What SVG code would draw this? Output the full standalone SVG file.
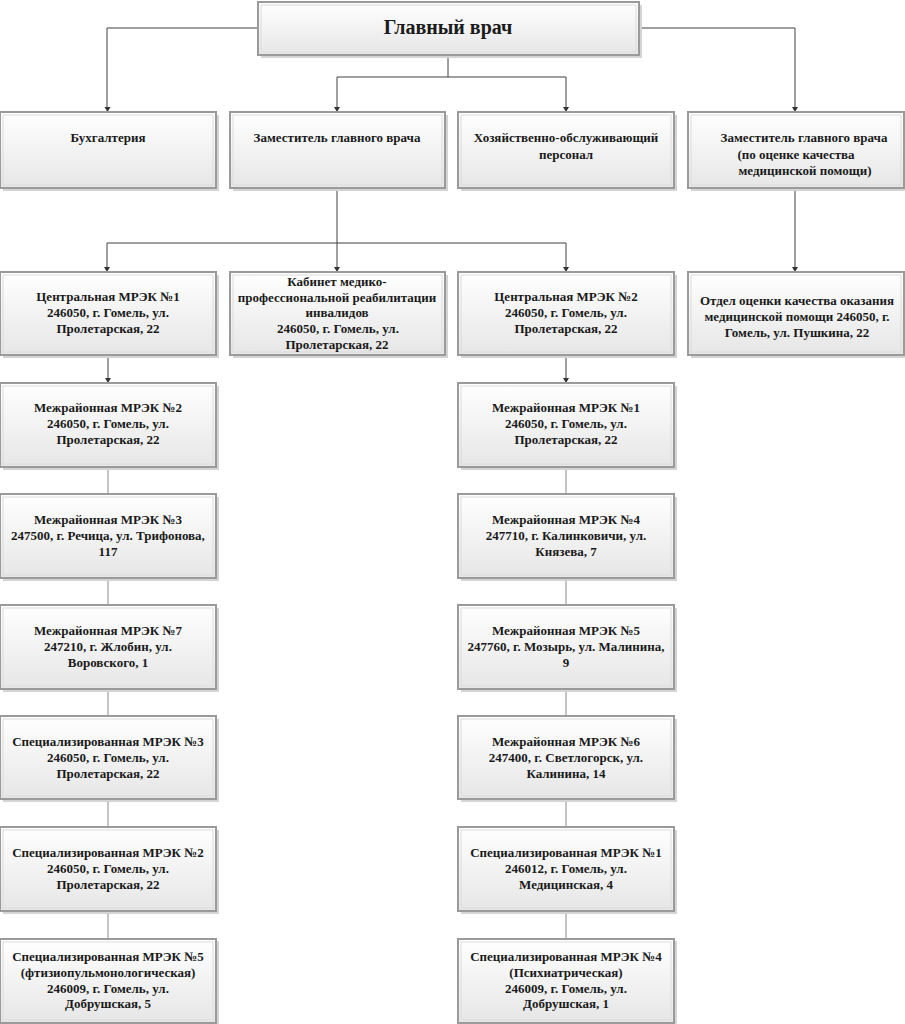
<svg xmlns="http://www.w3.org/2000/svg" width="905" height="1024" viewBox="0 0 905 1024">
<defs>
<linearGradient id="g" x1="0" y1="0" x2="0" y2="1">
<stop offset="0" stop-color="#ffffff"/>
<stop offset="1" stop-color="#e6e6e6"/>
</linearGradient>
</defs>
<style>
.b{fill:url(#g);stroke:#9a9a9a;stroke-width:2}
.s{fill:#d4d4d4}
.in{fill:none;stroke:#dcdcdc;stroke-width:1}
text{font-family:"Liberation Serif","Times New Roman",serif;font-weight:bold;font-size:13px;fill:#1a1a1a;text-anchor:middle}
.t{font-size:20px}
.c{fill:none;stroke:#404040;stroke-width:1}
.cl{fill:none;stroke:#8a8a8a;stroke-width:1}
.ah{fill:#333}
</style>
<rect width="905" height="1024" fill="#fff"/>
<g id="connectors">
<path class="c" d="M258,28 H107 V108"/>
<path class="c" d="M639,28 H795 V108"/>
<path class="c" d="M448,55 V77 M337,77 H566"/>
<path class="c" d="M337,77 V108"/>
<path class="c" d="M566,77 V108"/>
<path class="c" d="M337,188 V243 M107,243 H566"/>
<path class="c" d="M107,243 V268"/>
<path class="c" d="M337,243 V268"/>
<path class="c" d="M566,243 V268"/>
<path class="c" d="M795,188 V268"/>
<path class="c" d="M108,355 V379"/>
<path class="c" d="M566,355 V379"/>
<path class="cl" d="M108,467 V494 M108,578 V605 M108,689 V716 M108,800 V827 M108,911 V945"/>
<path class="cl" d="M566,467 V494 M566,578 V605 M566,689 V716 M566,800 V827 M566,911 V945"/>
<path class="ah" d="M104.5,107 L110.5,107 L107.5,112 z"/>
<path class="ah" d="M792,107 L798,107 L795,112 z"/>
<path class="ah" d="M334,107 L340,107 L337,112 z"/>
<path class="ah" d="M563,107 L569,107 L566,112 z"/>
<path class="ah" d="M104,267 L110,267 L107,272 z"/>
<path class="ah" d="M334,267 L340,267 L337,272 z"/>
<path class="ah" d="M563,267 L569,267 L566,272 z"/>
<path class="ah" d="M792,267 L798,267 L795,272 z"/>
<path class="ah" d="M105,378 L111,378 L108,383 z"/>
<path class="ah" d="M563,378 L569,378 L566,383 z"/>
</g>
<g id="n-main"><rect class="s" x="261" y="5" width="381" height="53"/><rect class="b" x="258" y="2" width="381" height="53"/><rect class="in" x="261" y="5" width="375" height="47"/><text class="t" x="448" y="34">Главный врач</text></g>
<g id="n-buh"><rect class="s" x="3" y="115" width="216" height="76"/><rect class="b" x="0" y="112" width="216" height="76"/><rect class="in" x="3" y="115" width="210" height="70"/><text x="108" y="142">Бухгалтерия</text></g>
<g id="n-zam"><rect class="s" x="233" y="115" width="215" height="76"/><rect class="b" x="230" y="112" width="215" height="76"/><rect class="in" x="233" y="115" width="209" height="70"/><text x="337" y="142">Заместитель главного врача</text></g>
<g id="n-hoz"><rect class="s" x="461" y="115" width="216" height="76"/><rect class="b" x="458" y="112" width="216" height="76"/><rect class="in" x="461" y="115" width="210" height="70"/><text x="566" y="142">Хозяйственно-обслуживающий</text><text x="566" y="159">персонал</text></g>
<g id="n-zam2"><rect class="s" x="691" y="115" width="216" height="76"/><rect class="b" x="688" y="112" width="216" height="76"/><rect class="in" x="691" y="115" width="210" height="70"/><text x="804" y="142">Заместитель главного врача</text><text x="796" y="159">(по оценке качества</text><text x="805" y="175">медицинской помощи)</text></g>

<g id="n-c1"><rect class="s" x="3" y="275" width="216" height="83"/><rect class="b" x="0" y="272" width="216" height="83"/><rect class="in" x="3" y="275" width="210" height="77"/><text x="108" y="301">Центральная МРЭК №1</text><text x="108" y="317">246050, г. Гомель, ул.</text><text x="108" y="333">Пролетарская, 22</text></g>
<g id="n-kab"><rect class="s" x="233" y="275" width="215" height="83"/><rect class="b" x="230" y="272" width="215" height="83"/><rect class="in" x="233" y="275" width="209" height="77"/><text x="337" y="286">Кабинет медико-</text><text x="337" y="302">профессиональной реабилитации</text><text x="337" y="317">инвалидов</text><text x="338" y="333">246050, г. Гомель, ул.</text><text x="337" y="349">Пролетарская, 22</text></g>
<g id="n-c2"><rect class="s" x="461" y="275" width="216" height="83"/><rect class="b" x="458" y="272" width="216" height="83"/><rect class="in" x="461" y="275" width="210" height="77"/><text x="566" y="301">Центральная МРЭК №2</text><text x="566" y="317">246050, г. Гомель, ул.</text><text x="566" y="333">Пролетарская, 22</text></g>
<g id="n-otd"><rect class="s" x="691" y="275" width="216" height="83"/><rect class="b" x="688" y="272" width="216" height="83"/><rect class="in" x="691" y="275" width="210" height="77"/><text x="797" y="305">Отдел оценки качества оказания</text><text x="797" y="321">медицинской помощи 246050, г.</text><text x="797" y="337">Гомель, ул. Пушкина, 22</text></g>

<g id="n-m2"><rect class="s" x="3" y="386" width="216" height="84"/><rect class="b" x="0" y="383" width="216" height="84"/><rect class="in" x="3" y="386" width="210" height="78"/><text x="108" y="412">Межрайонная МРЭК №2</text><text x="108" y="428">246050, г. Гомель, ул.</text><text x="108" y="444">Пролетарская, 22</text></g>
<g id="n-m3"><rect class="s" x="3" y="497" width="216" height="84"/><rect class="b" x="0" y="494" width="216" height="84"/><rect class="in" x="3" y="497" width="210" height="78"/><text x="108" y="524">Межрайонная МРЭК №3</text><text x="108" y="540">247500, г. Речица, ул. Трифонова,</text><text x="108" y="556">117</text></g>
<g id="n-m7"><rect class="s" x="3" y="608" width="216" height="84"/><rect class="b" x="0" y="605" width="216" height="84"/><rect class="in" x="3" y="608" width="210" height="78"/><text x="108" y="635">Межрайонная МРЭК №7</text><text x="108" y="651">247210, г. Жлобин, ул.</text><text x="108" y="667">Воровского, 1</text></g>
<g id="n-s3"><rect class="s" x="3" y="719" width="216" height="83"/><rect class="b" x="0" y="716" width="216" height="83"/><rect class="in" x="3" y="719" width="210" height="77"/><text x="108" y="746">Специализированная МРЭК №3</text><text x="108" y="762">246050, г. Гомель, ул.</text><text x="108" y="778">Пролетарская, 22</text></g>
<g id="n-s2"><rect class="s" x="3" y="830" width="216" height="84"/><rect class="b" x="0" y="827" width="216" height="84"/><rect class="in" x="3" y="830" width="210" height="78"/><text x="108" y="857">Специализированная МРЭК №2</text><text x="108" y="873">246050, г. Гомель, ул.</text><text x="108" y="889">Пролетарская, 22</text></g>
<g id="n-s5"><rect class="s" x="3" y="941" width="216" height="84"/><rect class="b" x="0" y="939" width="216" height="84"/><rect class="in" x="3" y="942" width="210" height="78"/><text x="108" y="961">Специализированная МРЭК №5</text><text x="108" y="977">(фтизиопульмонологическая)</text><text x="108" y="993">246009, г. Гомель, ул.</text><text x="108" y="1008">Добрушская, 5</text></g>

<g id="n-m1"><rect class="s" x="461" y="386" width="216" height="84"/><rect class="b" x="458" y="383" width="216" height="84"/><rect class="in" x="461" y="386" width="210" height="78"/><text x="566" y="412">Межрайонная МРЭК №1</text><text x="566" y="428">246050, г. Гомель, ул.</text><text x="566" y="444">Пролетарская, 22</text></g>
<g id="n-m4"><rect class="s" x="461" y="497" width="216" height="84"/><rect class="b" x="458" y="494" width="216" height="84"/><rect class="in" x="461" y="497" width="210" height="78"/><text x="566" y="524">Межрайонная МРЭК №4</text><text x="566" y="540">247710, г. Калинковичи, ул.</text><text x="566" y="556">Князева, 7</text></g>
<g id="n-m5"><rect class="s" x="461" y="608" width="216" height="84"/><rect class="b" x="458" y="605" width="216" height="84"/><rect class="in" x="461" y="608" width="210" height="78"/><text x="566" y="635">Межрайонная МРЭК №5</text><text x="566" y="651">247760, г. Мозырь, ул. Малинина,</text><text x="566" y="667">9</text></g>
<g id="n-m6"><rect class="s" x="461" y="719" width="216" height="83"/><rect class="b" x="458" y="716" width="216" height="83"/><rect class="in" x="461" y="719" width="210" height="77"/><text x="566" y="746">Межрайонная МРЭК №6</text><text x="566" y="762">247400, г. Светлогорск, ул.</text><text x="566" y="778">Калинина, 14</text></g>
<g id="n-s1"><rect class="s" x="461" y="830" width="216" height="84"/><rect class="b" x="458" y="827" width="216" height="84"/><rect class="in" x="461" y="830" width="210" height="78"/><text x="566" y="857">Специализированная МРЭК №1</text><text x="566" y="873">246012, г. Гомель, ул.</text><text x="566" y="889">Медицинская, 4</text></g>
<g id="n-s4"><rect class="s" x="461" y="941" width="216" height="84"/><rect class="b" x="458" y="939" width="216" height="84"/><rect class="in" x="461" y="942" width="210" height="78"/><text x="566" y="961">Специализированная МРЭК №4</text><text x="566" y="977">(Психиатрическая)</text><text x="566" y="993">246009, г. Гомель, ул.</text><text x="566" y="1008">Добрушская, 1</text></g>
</svg>
